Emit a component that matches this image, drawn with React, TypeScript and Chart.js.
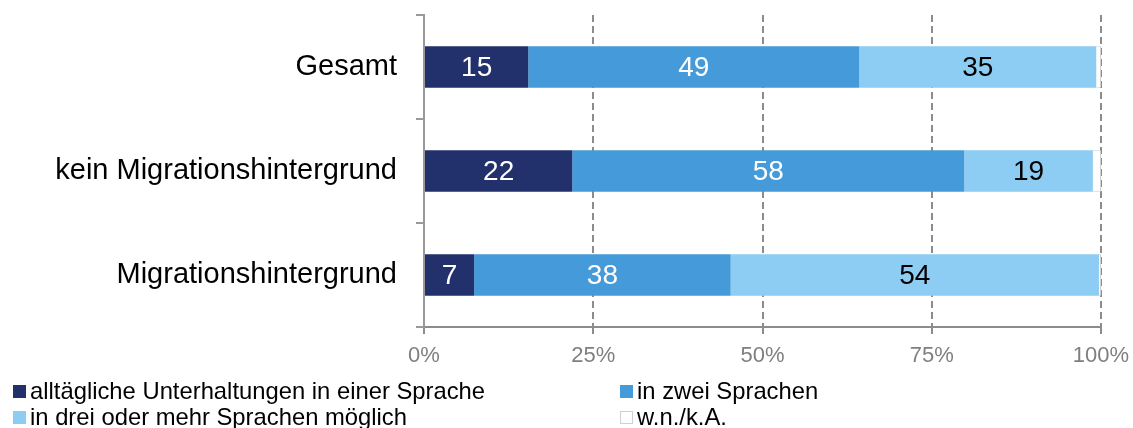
import React, { useEffect, useRef } from "react";
import { Chart, registerables } from "chart.js";

Chart.register(...registerables);

const categories = ["Gesamt", "kein Migrationshintergrund", "Migrationshintergrund"];
const seriesNames = [
  "alltägliche Unterhaltungen in einer Sprache",
  "in zwei Sprachen",
  "in drei oder mehr Sprachen möglich",
  "w.n./k.A.",
];
const einer = [15.4, 21.9, 7.4];
const zwei = [48.9, 57.9, 37.9];
const drei = [35.0, 19.0, 54.4];
const wnka = [0.7, 1.2, 0.3];
const xTicks = [0, 25, 50, 75, 100];

const colors = ["#22316c", "#459ad9", "#8dcdf4", "#ffffff"];
const labelColors = ["#ffffff", "#ffffff", "#000000", null];
const FONT = "'Liberation Sans', Arial, sans-serif";

const labelPlugin = {
  id: "segLabels",
  afterDatasetsDraw(chart: any) {
    const ctx = chart.ctx;
    ctx.save();
    ctx.font = `28px ${FONT}`;
    ctx.textAlign = "center";
    ctx.textBaseline = "middle";
    chart.data.datasets.forEach((ds: any, di: number) => {
      const col = labelColors[di];
      if (!col) return;
      const meta = chart.getDatasetMeta(di);
      meta.data.forEach((el: any, i: number) => {
        const v = ds.data[i];
        const cx = (el.x + el.base) / 2;
        ctx.fillStyle = col;
        ctx.fillText(String(Math.round(v)), cx, el.y + 1);
      });
    });
    ctx.restore();
  },
};

export default function App() {
  const ref = useRef<HTMLCanvasElement>(null);
  useEffect(() => {
    const data = [einer, zwei, drei, wnka];
    const chart = new Chart(ref.current!, {
      type: "bar",
      data: {
        labels: categories,
        datasets: data.map((d, i) => ({
          label: seriesNames[i],
          data: d,
          backgroundColor: colors[i],
          borderColor: i === 3 ? "#d0d0d0" : "rgba(255,255,255,0.4)",
          borderWidth: i === 3 ? 1 : 0,
          barPercentage: 0.8,
          categoryPercentage: 0.5,
        })),
      },
      options: {
        indexAxis: "y",
        animation: false,
        responsive: false,
        maintainAspectRatio: false,
        layout: { padding: { top: 15, right: 32, bottom: 61, left: 0 } },
        plugins: { legend: { display: false }, tooltip: { enabled: false } },
        scales: {
          x: {
            stacked: true,
            min: 0,
            max: 100,
            afterBuildTicks: (s: any) => {
              s.ticks = xTicks.map((v) => ({ value: v }));
            },
            afterFit: (s: any) => {
              s.height = 40;
              s.paddingLeft = 0;
              s.paddingRight = 0;
            },
            grid: {
              color: "#8c8c8c",
              lineWidth: 2,
              drawTicks: true,
              tickLength: 7,
              tickColor: "#8c8c8c",
            },
            border: { display: true, color: "#8c8c8c", width: 2, dash: [7, 4] },
            ticks: {
              color: "#7f7f7f",
              font: { family: FONT, size: 22 },
              padding: 9,
              callback: (v: any) => `${v}%`,
            },
          },
          y: {
            stacked: true,
            afterFit: (s: any) => {
              s.width = 424;
              s.paddingTop = 0;
              s.paddingBottom = 0;
            },
            grid: {
              drawOnChartArea: false,
              drawTicks: true,
              tickLength: 8,
              color: "#999999",
              lineWidth: 2,
              offset: true,
            },
            border: { display: true, color: "#999999", width: 2 },
            ticks: {
              color: "#000000",
              font: { family: FONT, size: 29 },
              padding: 19,
            },
          },
        },
      },
      plugins: [labelPlugin],
    } as any);
    (chart.options.scales as any).x.grid.borderDash = [7, 4];
    (chart.options.scales as any).x.grid.tickBorderDash = [];
    chart.update();
    return () => chart.destroy();
  }, []);

  const legendItem = (i: number, left: number, top: number) => (
    <div
      key={i}
      style={{
        position: "absolute",
        left,
        top,
        display: "flex",
        alignItems: "center",
        fontFamily: FONT,
        fontSize: 23.8,
        color: "#000",
        whiteSpace: "nowrap",
        lineHeight: "26px",
        height: 26,
      }}
    >
      <span
        style={{
          display: "inline-block",
          width: 13,
          height: 13,
          background: colors[i],
          border: i === 3 ? "1px solid #d0d0d0" : "none",
          boxSizing: "border-box",
          marginRight: 4,
        }}
      />
      {seriesNames[i]}
    </div>
  );

  return (
    <div style={{ position: "fixed", left: 0, top: 0, width: 1133, height: 428, background: "#fff" }}>
      <canvas ref={ref} width={1133} height={428} style={{ display: "block" }} />
      {legendItem(0, 13, 378)}
      {legendItem(1, 620, 378)}
      {legendItem(2, 13, 404)}
      {legendItem(3, 620, 404)}
    </div>
  );
}
